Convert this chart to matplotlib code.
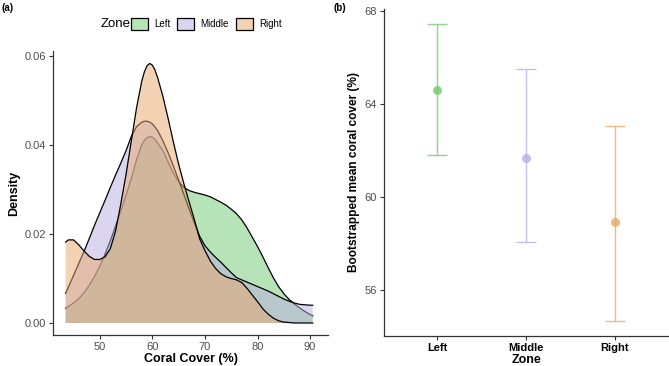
import matplotlib
matplotlib.use('Agg')
import matplotlib.pyplot as plt
from matplotlib.patches import Patch
from matplotlib.colors import to_rgba

plt.rcParams['font.family'] = ['Liberation Sans', 'DejaVu Sans']

# 밀도 곡선
cover = [43.5, 44, 45, 46, 47, 48, 49, 50, 51, 52, 53, 54, 55, 56, 57, 58, 58.5, 59, 59.5,
         60, 60.5, 61, 62, 63, 64, 65, 66, 67, 68, 69, 70, 71, 72, 73, 74, 75, 76, 77,
         78, 79, 80, 81, 82, 83, 84, 85, 86, 87, 88, 89, 90, 90.5]
dens_left = [0.0033, 0.0037, 0.0045, 0.0055, 0.0068, 0.0085, 0.0105, 0.0128, 0.0155,
             0.0185, 0.0218, 0.0252, 0.0288, 0.0325, 0.0368, 0.0402, 0.0411, 0.0417,
             0.0419, 0.0418, 0.0413, 0.0405, 0.0388, 0.0362, 0.0337, 0.0318, 0.0305,
             0.0298, 0.0294, 0.0291, 0.0288, 0.0284, 0.0278, 0.0272, 0.0265, 0.0256,
             0.0246, 0.0232, 0.0214, 0.0193, 0.0172, 0.0149, 0.0125, 0.0102, 0.0082,
             0.0066, 0.0053, 0.0043, 0.0034, 0.0026, 0.0019, 0.0016]
dens_middle = [0.0067, 0.0080, 0.0107, 0.0134, 0.0161, 0.0190, 0.0220, 0.0248, 0.0276,
               0.0305, 0.0333, 0.0360, 0.0388, 0.0420, 0.0442, 0.0452, 0.0454, 0.0454,
               0.0452, 0.0448, 0.0441, 0.0433, 0.0410, 0.0383, 0.0353, 0.0321, 0.0289,
               0.0256, 0.0225, 0.0195, 0.0174, 0.0160, 0.0148, 0.0137, 0.0125, 0.0113,
               0.0102, 0.0097, 0.0092, 0.0087, 0.0082, 0.0077, 0.0072, 0.0066, 0.0060,
               0.0054, 0.0049, 0.0045, 0.0042, 0.0041, 0.0040, 0.0040]
dens_right = [0.0182, 0.0187, 0.0187, 0.0176, 0.0162, 0.0150, 0.0143, 0.0143, 0.0149,
              0.0167, 0.0207, 0.0268, 0.0335, 0.0410, 0.0485, 0.0545, 0.0566, 0.0579,
              0.0584, 0.0580, 0.0569, 0.0552, 0.0510, 0.0460, 0.0407, 0.0357, 0.0313,
              0.0272, 0.0232, 0.0189, 0.0163, 0.0140, 0.0123, 0.0111, 0.0104, 0.0100,
              0.0097, 0.0091, 0.0078, 0.0063, 0.0048, 0.0032, 0.0020, 0.0011, 0.0005,
              0.0002, 0.0001, 0.0, 0.0, 0.0, 0.0, 0.0]

# 부트스트랩 평균 및 신뢰구간
zones = ['Left', 'Middle', 'Right']
boot_mean = [64.6, 61.65, 58.9]
boot_low = [61.8, 58.05, 54.65]
boot_high = [67.45, 65.5, 63.05]

colors = ['#6fc971', '#bbade1', '#e9a96b']

fig = plt.figure(figsize=(6.69, 3.66), dpi=100)
ax1 = fig.add_axes([53 / 669, 31 / 366, 275 / 669, 284 / 366])
ax2 = fig.add_axes([384 / 669, 30 / 366, 284 / 669, 327 / 366])

# (a) 밀도 그래프 - 나중 그룹의 채움이 앞 그룹의 외곽선을 덮도록 zorder 지정
for i, (dens, c) in enumerate(zip([dens_left, dens_middle, dens_right], colors)):
    ax1.fill_between(cover, 0, dens, facecolor=to_rgba(c, 0.5), edgecolor='none',
                     zorder=2 * i + 1)
    ax1.plot(cover, dens, color='black', lw=0.9, zorder=2 * i + 2)

ax1.set_xlim(41.1, 93.4)
ax1.set_ylim(-0.0027, 0.0612)
ax1.set_xticks([50, 60, 70, 80, 90])
ax1.set_yticks([0.0, 0.02, 0.04, 0.06])
ax1.set_yticklabels(['0.00', '0.02', '0.04', '0.06'])
ax1.set_xlabel('Coral Cover (%)', fontsize=9, fontweight='bold', labelpad=1)
ax1.set_ylabel('Density', fontsize=9, fontweight='bold', labelpad=3)

# (b) 부트스트랩 평균
xpos = range(len(zones))
for i, c in enumerate(colors):
    ax2.errorbar(xpos[i], boot_mean[i],
                 yerr=[[boot_mean[i] - boot_low[i]], [boot_high[i] - boot_mean[i]]],
                 fmt='none', ecolor=to_rgba(c, 0.8), elinewidth=1.0,
                 capsize=7.4, capthick=1.0)
    ax2.plot(xpos[i], boot_mean[i], 'o', color=to_rgba(c, 0.8), ms=6.5, mec='none')

ax2.set_xlim(-0.6, 2.6)
ax2.set_ylim(54.0, 68.08)
ax2.set_xticks(list(xpos))
ax2.set_xticklabels(zones, fontweight='bold', color='black')
ax2.set_yticks([56, 60, 64, 68])
ax2.set_xlabel('Zone', fontsize=9, fontweight='bold', labelpad=1)
ax2.set_ylabel('Bootstrapped mean coral cover (%)', fontsize=8.6, fontweight='bold', labelpad=3)

for ax in (ax1, ax2):
    for s in ('top', 'right'):
        ax.spines[s].set_visible(False)
    for s in ('left', 'bottom'):
        ax.spines[s].set_color('#333333')
        ax.spines[s].set_linewidth(0.9)
    ax.tick_params(length=3, width=0.8, color='#333333', labelsize=8, pad=2)
    ax.tick_params(axis='y', labelcolor='#4d4d4d')
ax1.tick_params(axis='x', labelcolor='#4d4d4d')

# 범례
handles = [Patch(facecolor=to_rgba(c, 0.5), edgecolor='black', linewidth=0.9, label=z)
           for c, z in zip(colors, zones)]
fig.text(101 / 669, 1 - 24 / 366, 'Zone', fontsize=9.5, ha='left', va='center')
fig.legend(handles=handles, loc='center left', bbox_to_anchor=(131 / 669, 1 - 24 / 366),
           ncol=3, frameon=False, fontsize=7, handlelength=1.75, handleheight=1.65,
           handletextpad=0.65, columnspacing=0.7, borderaxespad=0, borderpad=0)

fig.text(2 / 669, 1 - 8 / 366, '(a)', fontsize=7, fontweight='bold', ha='left', va='center')
fig.text(333 / 669, 1 - 8 / 366, '(b)', fontsize=7, fontweight='bold', ha='left', va='center')

plt.savefig('out.png', dpi=100)
plt.close()
